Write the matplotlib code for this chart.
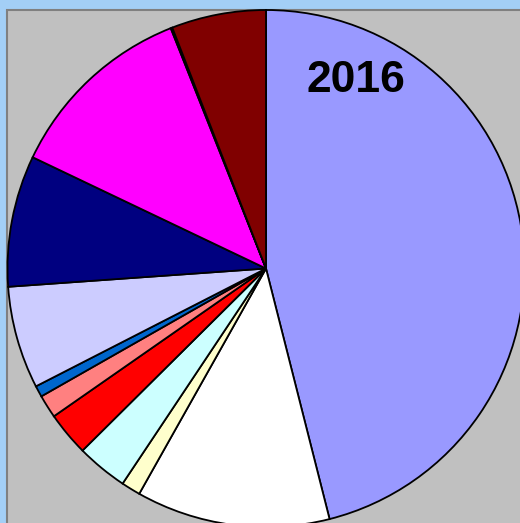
import matplotlib.pyplot as plt
from matplotlib.patches import Rectangle

plt.rcParams['font.family'] = ['Liberation Sans', 'DejaVu Sans']

# 2016 shares, clockwise from 12 o'clock
shares = [46.0, 12.1, 1.2, 3.2, 2.75, 1.45, 0.7, 6.4, 8.2, 11.9, 0.1, 5.9]
colors = ['#9999ff', '#ffffff', '#ffffcc', '#ccffff', '#ff0000', '#ff8080',
          '#0066cc', '#ccccff', '#000080', '#ff00ff', '#00cccc', '#800000']
year_label = '2016'

W, H = 520, 523
fig = plt.figure(figsize=(W / 100, H / 100), dpi=100, facecolor='#a3cff6')
ax = fig.add_axes([0, 0, 1, 1])
ax.set_facecolor('none')

# gray plot area with darker border along top/left
ax.add_patch(Rectangle((7, -10), 600, H - 10 + 10, facecolor='#c0c0c0',
                       edgecolor='#808080', linewidth=1.5, zorder=0))

ax.pie(shares, colors=colors, startangle=90, counterclock=False,
       center=(266, H - 268.5), radius=258.5, frame=True,
       wedgeprops=dict(edgecolor='black', linewidth=1.3))

ax.text(356, H - 92, year_label, fontsize=32, fontweight='bold',
        ha='center', va='baseline', color='black')

ax.set_xlim(0, W)
ax.set_ylim(0, H)
ax.set_aspect('equal')
ax.axis('off')

fig.savefig('out.png', dpi=100, facecolor=fig.get_facecolor())
